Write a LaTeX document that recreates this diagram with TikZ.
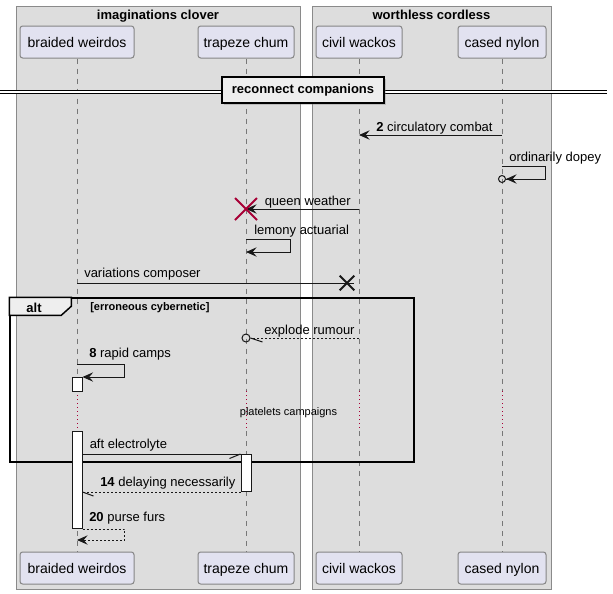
\documentclass[tikz,border=0pt]{standalone}
\usepackage{fontspec}
\setmainfont{Liberation Sans}
\usetikzlibrary{arrows.meta,positioning,shapes.misc,shadows}

\definecolor{groupfill}{HTML}{DDDDDD}
\definecolor{groupline}{HTML}{8A8A8A}
\definecolor{partfill}{HTML}{E2E2F0}
\definecolor{partline}{HTML}{858585}
\definecolor{inkline}{HTML}{181818}
\definecolor{lifegray}{HTML}{777777}
\definecolor{delayred}{HTML}{A80036}
\definecolor{tabfill}{HTML}{EEEEEE}

\tikzset{
  msgfont/.style={font=\fontsize{9.75}{11.7}\selectfont},
  smallfont/.style={font=\fontsize{8.25}{9.9}\selectfont},
  group box/.style={draw=groupline, fill=groupfill, line width=0.75pt, inner sep=0pt},
  group title/.style={anchor=base, inner sep=0pt, font=\fontsize{9.75}{11.7}\selectfont\bfseries},
  participant/.style={draw=partline, fill=partfill, rounded corners=2pt, line width=0.75pt,
    minimum height=24pt, inner sep=0pt, text height=8.5pt, text depth=1pt,
    font=\fontsize{10.5}{12.6}\selectfont},
  lifeline/.style={draw=lifegray, line width=0.75pt, dash pattern=on 3.75pt off 3.75pt},
  delay line/.style={draw=delayred, line width=0.75pt, dash pattern=on 0.75pt off 2.25pt},
  divider line/.style={draw=black, line width=0.75pt, double=white, double distance=1.7pt},
  divider box/.style={draw=black, fill=tabfill, line width=1.5pt, minimum width=121.5pt,
    minimum height=19.5pt, inner sep=0pt, font=\fontsize{9.75}{11.7}\selectfont\bfseries,
    drop shadow={shadow xshift=1.5pt, shadow yshift=-1.5pt, opacity=0.35}},
  msg/.style={draw=inkline, line width=0.75pt, ->},
  reply/.style={draw=inkline, line width=0.75pt, dash pattern=on 1.5pt off 1.5pt},
  barb/.style={draw=inkline, line width=0.75pt},
  msg label/.style={anchor=base west, inner sep=0pt, msgfont},
  actbar/.style={draw=inkline, fill=white, line width=0.75pt, minimum width=7.5pt, inner sep=0pt, anchor=north},
  destroy/.style={draw=delayred, cross out, line width=1.5pt, minimum size=15pt, inner sep=0pt},
  lost/.style={draw=inkline, cross out, line width=1.5pt, minimum size=9.5pt, inner sep=0pt},
  frame/.style={draw=black, line width=1.1pt, inner sep=0pt},
}

\begin{document}
\begin{tikzpicture}[x=0.75pt, y=-0.75pt, >={Stealth[length=8pt,width=7pt,inset=3pt]}]

\useasboundingbox (0,0) rectangle (613,593);

% boxes of the two groups
\node [group box, minimum width=213pt, minimum height=437.25pt] (grp-ic) at (158,297.5) {};
\node [group box, minimum width=179.25pt, minimum height=437.25pt] (grp-wc) at (431.5,297.5) {};
\node [group title] (grp-ic-title) at (158,19) {imaginations clover};
\node [group title] (grp-wc-title) at (431.5,19) {worthless cordless};

% participants, head and foot
\foreach \p/\x/\w/\t in {bw/77/114/braided weirdos, tc/246/96/trapeze chum,
                         cw/359/86/civil wackos, cn/502/88/cased nylon} {
  \node [participant, minimum width=\w*0.75pt] (\p-top) at (\x,42) {\t};
  \node [participant, minimum width=\w*0.75pt] (\p-bot) at (\x,568) {\t};
}

% lifelines with the delay
\foreach \p in {bw,tc,cw,cn} {
  \foreach \y in {135,166,179,209,239,252,283,338,364,377,391,431,454,527,540}
    \coordinate (\p-\y) at (\p-top |- 0,\y);
  \draw [lifeline] (\p-top) -- (\p-391);
  \draw [delay line] (\p-391) -- (\p-431);
  \draw [lifeline] (\p-431) -- (\p-bot);
}

% divider
\coordinate (div-w) at (0,92.3);
\coordinate (div-e) at (607,92.3);
\draw [divider line] (div-w) -- (div-e);
\node [divider box] (div) at (303,90) {reconnect companions};

% messages
\draw [msg] (cn-135) -- (cw-135);
\node [msg label] (lbl-cc) at (376,131) {\textbf{2} circulatory combat};

\draw [msg, -{Stealth[length=8pt,width=7pt,inset=3pt] Circle[open,length=6pt]}, shorten >=-3pt]
  (cn-166) -- ++(43,0) |- (cn-179);
\node [msg label] (lbl-od) at (509,161) {ordinarily dopey};

\draw [msg] (cw-209) -- (tc-209);
\node [destroy] (tc-end) at (tc-209) {};
\node [msg label] (lbl-qw) at (264.5,205) {queen weather};

\draw [msg] (tc-239) -- ++(44,0) |- (tc-252);
\node [msg label] (lbl-la) at (254,234.5) {lemony actuarial};

\node [lost] (lost-x) at (347,283) {};
\draw [barb] (bw-283) -- (lost-x.east);
\node [msg label] (lbl-vc) at (84,277.5) {variations composer};

% alt fragment
\node [frame, minimum width=303pt, minimum height=123pt] (alt-frame) at (212,380) {};
\draw [frame, fill=tabfill] (alt-frame.north west) -- ++(62,0) -- ++(0,9) -- ++(-10,9)
  -- ++(-52,0) -- cycle;
\node [anchor=base, inner sep=0pt, font=\fontsize{9.75}{11.7}\selectfont\bfseries] (alt-tag) at (34,312) {alt};
\node [anchor=base west, inner sep=0pt, font=\fontsize{8.25}{9.9}\selectfont\bfseries] (alt-guard) at (90,310) {[erroneous cybernetic]};

\node [circle, draw=inkline, line width=0.75pt, minimum size=6pt, inner sep=0pt] (er-end) at (tc-338) {};
\draw [reply] (cw-338) -- (er-end);
\draw [barb] (er-end.east) -- ++(12,4);
\node [msg label] (lbl-er) at (264,334) {explode rumour};

\node [actbar, minimum height=10.5pt] (bw-act1) at (bw-377) {};
\node [actbar, minimum height=72.75pt] (bw-act2) at (bw-431) {};
\node [actbar, minimum height=27.75pt] (tc-act) at (tc-454) {};

\draw [msg] (bw-364) -- ++(47,0) |- (bw-act1.north east);
\node [msg label] (lbl-rc) at (89,357.5) {\textbf{8} rapid camps};

\node [anchor=base, inner sep=0pt, smallfont] (dly-pc) at (288.5,415) {platelets campaigns};

\draw [barb] (bw-act2.east |- tc-act.north) -- (tc-act.north west);
\draw [barb] (tc-act.north west) -- ++(-11,4.5);
\node [msg label] (lbl-ae) at (89.5,448.5) {aft electrolyte};

\draw [reply] (tc-act.south west) -- (bw-act2.east |- tc-act.south);
\draw [barb] (bw-act2.east |- tc-act.south) -- ++(11,4);
\node [msg label] (lbl-dn) at (100,486.5) {\textbf{14} delaying necessarily};

\draw [reply, ->] (bw-act2.south east) -- ++(42,0) |- (bw-540);
\node [msg label] (lbl-pf) at (89,521.5) {\textbf{20} purse furs};

\end{tikzpicture}
\end{document}
